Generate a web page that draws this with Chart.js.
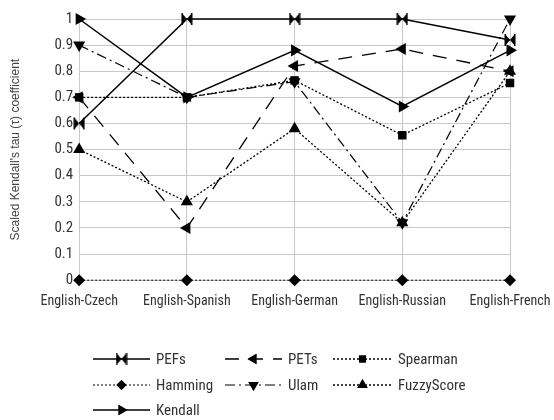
<!DOCTYPE html>
<html>
<head>
<meta charset="utf-8">
<script src="https://cdn.jsdelivr.net/npm/chart.js@4.4.0/dist/chart.umd.min.js"></script>
<style>
  html, body { margin: 0; padding: 0; background: #fff; }
  #wrap { width: 554px; height: 420px; position: relative; }
</style>
</head>
<body>
<div id="wrap"><canvas id="tauChart"></canvas></div>
<script>
var pairs = ["English-Czech", "English-Spanish", "English-German", "English-Russian", "English-French"];
var pefs = [0.6, 1, 1, 1, 0.92];
var pets = [0.7, 0.2, 0.82, 0.885, 0.8];
var spearman = [0.7, 0.7, 0.765, 0.555, 0.755];
var hamming = [0, 0, 0, 0, 0];
var ulam = [0.9, 0.7, 0.76, 0.22, 1];
var fuzzy = [0.5, 0.3, 0.58, 0.22, 0.8];
var kendall = [1, 0.7, 0.88, 0.665, 0.88];

var narrow = "'Roboto Condensed', Roboto, sans-serif";

// bowtie marker for PEFs
function bowtie(){
    var c = document.createElement("canvas");
    c.width = 12; c.height = 14;
    var g = c.getContext("2d");
    g.fillStyle = "#000";
    g.beginPath();
    g.moveTo(1, 1); g.lineTo(6, 7); g.lineTo(1, 13); g.closePath();
    g.moveTo(11, 1); g.lineTo(6, 7); g.lineTo(11, 13); g.closePath();
    g.fill();
    g.fillRect(0.5, 1, 1.5, 12);
    g.fillRect(10, 1, 1.5, 12);
    return c;
}
var bow = bowtie();

function series(label, data, dash, width, style, rot, radius){
    return {
        label: label,
        data: data,
        borderColor: "#000",
        backgroundColor: "#000",
        borderWidth: width,
        borderDash: dash,
        pointStyle: style,
        pointRotation: rot,
        pointRadius: radius,
        pointBorderWidth: 0,
        clip: false,
        fill: false,
        tension: 0
    };
}

var sets = [
    series("Hamming", hamming, [2, 2], 1, "rectRot", 0, 6),
    series("FuzzyScore", fuzzy, [2, 2], 1.3, "triangle", 0, 7),
    series("Ulam", ulam, [10, 4, 2, 4], 1.2, "triangle", 180, 7),
    series("PETs", pets, [14, 10], 1.3, "triangle", -90, 7),
    series("Spearman", spearman, [2, 2], 1.3, "rect", 0, 6),
    series("Kendall", kendall, [], 1.5, "triangle", 90, 7),
    series("PEFs", pefs, [], 1.5, bow, 0, 6)
];

// legend drawn under the plot, three columns like the original
var legendOrder = ["PEFs", "PETs", "Spearman", "Hamming", "Ulam", "FuzzyScore", "Kendall"];
var legendPlugin = {
    id: "rowLegend",
    afterDraw: function(chart){
        var ctx = chart.ctx;
        var cols = [[93, 150], [225, 282], [333, 392]];
        var rows = [359, 385, 410];
        ctx.save();
        legendOrder.forEach(function(name, i){
            var ds = chart.data.datasets.find(function(d){ return d.label === name; });
            var c = cols[i % 3], y = rows[Math.floor(i / 3)];
            ctx.strokeStyle = "#000";
            ctx.lineWidth = ds.borderWidth;
            ctx.setLineDash(ds.borderDash);
            ctx.beginPath();
            ctx.moveTo(c[0], y); ctx.lineTo(c[1], y);
            ctx.stroke();
            ctx.setLineDash([]);
            Chart.helpers.drawPoint(ctx, {
                pointStyle: ds.pointStyle, rotation: ds.pointRotation,
                radius: ds.pointRadius - 1, borderWidth: 0
            }, (c[0] + c[1]) / 2, y);
            ctx.fillStyle = "#000";
            ctx.fill();
            ctx.fillStyle = "#333";
            ctx.font = "15px " + narrow;
            ctx.textBaseline = "middle";
            ctx.fillText(name, c[1] + 6, y + 1);
        });
        ctx.restore();
    }
};

new Chart("tauChart", {
    type: "line",
    data: { labels: pairs, datasets: sets },
    options: {
        responsive: true,
        maintainAspectRatio: false,
        animation: false,
        layout: { padding: { top: 19, right: 44, bottom: 97, left: 8 } },
        plugins: { legend: { display: false }, tooltip: { enabled: false } },
        scales: {
            x: {
                offset: false,
                grid: { color: "#c8c8c8", drawTicks: false },
                border: { display: false },
                afterFit: function(scale){ scale.paddingRight = 0; },
                ticks: {
                    color: "#333", padding: 13, maxRotation: 0, autoSkip: false,
                    font: { family: narrow, size: 14 }
                }
            },
            y: {
                min: 0, max: 1,
                grid: { color: "#c8c8c8", drawTicks: false },
                border: { display: false },
                ticks: {
                    stepSize: 0.1, color: "#333", padding: 6,
                    font: { family: narrow, size: 15 },
                    callback: function(v){ return String(Math.round(v * 10) / 10); }
                },
                title: {
                    display: true, text: "Scaled Kendall's tau (\u03c4) coefficient",
                    color: "#444", padding: { top: 0, bottom: 26 },
                    font: { family: "'Liberation Sans', sans-serif", size: 12 }
                }
            }
        }
    },
    plugins: [legendPlugin]
});
</script>
</body>
</html>
